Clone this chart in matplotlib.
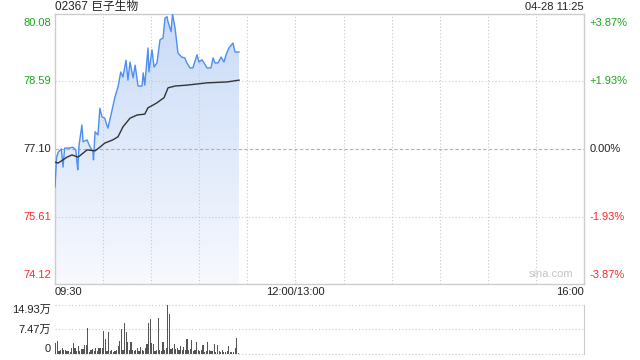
import numpy as np
import matplotlib
matplotlib.use('Agg')
import matplotlib.pyplot as plt

plt.rcParams['font.family'] = ['Liberation Sans', 'Noto Sans CJK SC', 'DejaVu Sans']

# minutes since 09:30, HK session is 330 min (150 morning + 180 afternoon)
price_t = [0, 1, 2, 4, 5, 6, 9, 11, 13, 13.7, 14.2, 15, 16.8, 17.5, 20, 21.8, 23.7, 24,
           25, 26.8, 28, 29.3, 31, 33, 35.6, 37.4, 39.3, 41, 42.4, 44.3, 45.5, 46.8,
           48.7, 50, 51.8, 54.3, 55, 56, 58, 58.6, 60.5, 61.8, 63.6, 65.5, 67.4, 68.6,
           69.9, 70.5, 72.4, 73.3, 74.9, 76.7, 79, 81, 82.3, 84.2, 86, 88.6, 89.8,
           91.7, 93, 94.8, 97.3, 98.6, 99.8, 101.7, 103.6, 105.4, 106.7, 108.5, 111,
           112.3, 114.8]
price = [76.26, 76.92, 77.03, 77.10, 76.70, 77.12, 77.12, 77.14, 77.08, 76.81, 76.64,
         77.19, 77.63, 77.26, 77.30, 77.15, 77.04, 76.86, 77.48, 77.41, 78.00, 77.81,
         77.78, 77.56, 77.96, 78.25, 78.47, 78.80, 78.69, 79.06, 78.62, 79.02, 78.67,
         78.95, 78.49, 78.49, 78.78, 78.51, 79.33, 78.80, 79.29, 78.91, 79.00, 79.51,
         79.55, 79.99, 80.02, 79.91, 79.69, 80.08, 79.77, 79.22, 79.13, 79.11, 79.00,
         78.89, 78.89, 79.18, 79.02, 79.07, 79.00, 78.89, 78.89, 79.11, 79.00, 79.00,
         79.13, 79.02, 79.18, 79.33, 79.44, 79.24, 79.24]

avg_t = [0, 2, 7.5, 10.6, 14.4, 20, 25, 28, 31, 36, 39.3, 42.4, 46.8, 51.2, 56, 58,
         61.2, 63.6, 66.7, 68, 70.5, 74.9, 82.3, 94.8, 107.3, 114.8]
avg = [76.81, 76.79, 76.92, 76.97, 76.92, 77.08, 77.06, 77.14, 77.23, 77.30, 77.37,
       77.59, 77.78, 77.85, 77.87, 78.01, 78.07, 78.12, 78.20, 78.23, 78.45, 78.49,
       78.51, 78.56, 78.58, 78.62]

# volume per minute, unit 万
vol = [3.2, 4.1, 1.0, 1.3, 1.8, 1.3, 1.1, 1.0, 0.8, 0.5, 1.8, 3.2, 1.8, 0.8, 2.5, 0.8,
       1.5, 1.5, 2.8, 2.8, 8.0, 0.5, 1.1, 1.6, 1.0, 1.8, 0.8, 1.8, 1.8, 1.8, 7.1, 4.7,
       0.8, 6.8, 0.8, 1.3, 0.6, 0.8, 1.3, 2.5, 4.1, 7.7, 1.2, 9.5, 6.8, 3.6, 1.3, 3.6,
       1.1, 0.8, 1.3, 1.8, 1.0, 2.0, 1.3, 0.9, 1.8, 3.1, 9.5, 10.8, 3.4, 3.1, 0.8, 1.3,
       11.1, 1.3, 0.9, 3.6, 1.1, 1.8, 14.93, 12.3, 1.5, 1.8, 3.1, 1.5, 1.8, 1.1, 2.3,
       1.3, 2.0, 1.1, 4.7, 1.3, 1.5, 4.2, 0.8, 1.1, 3.7, 1.1, 0.8, 1.1, 2.6, 0.7, 0.8,
       3.7, 1.3, 0.8, 0.8, 3.1, 0.5, 2.7, 0.8, 0.6, 1.1, 0.6, 0.5, 0.8, 2.3, 0.6, 0.5,
       0.6, 1.8, 4.9, 0.3, 0.1]

prev_close = 77.10
price_ticks = [74.12, 75.61, 77.10, 78.59, 80.08]
pct_labels = ['-3.87%', '-1.93%', '0.00%', '+1.93%', '+3.87%']
tick_colors = ['#ff2a2a', '#ff2a2a', '#222222', '#1aa51a', '#1aa51a']
vol_ticks = [0, 7.47, 14.93]
vol_labels = ['0', '7.47万', '14.93万']

GRID = '#c8c8c8'
SPINE = '#cccccc'

fig = plt.figure(figsize=(6.4, 3.6), dpi=100)
ax = fig.add_axes([55 / 640, 1 - 284 / 360, 529 / 640, 270 / 360])
vax = fig.add_axes([55 / 640, 1 - 354 / 360, 529 / 640, 49 / 360])

ax.set_xlim(0, 330)
ax.set_ylim(price_ticks[0], price_ticks[-1])

for x in range(30, 330, 30):
    ax.axvline(x, color=GRID, lw=0.8, ls=(0, (1, 2)), zorder=2)
for y in price_ticks[1:-1]:
    if y == prev_close:
        ax.axhline(y, color='#b0b0b0', lw=0.8, ls=(0, (3, 2)), zorder=2)
    else:
        ax.axhline(y, color=GRID, lw=0.8, ls=(0, (1, 2)), zorder=2)

# gradient fill under the price line
fill = ax.fill_between(price_t, price, price_ticks[0], color='none', lw=0)
grad = np.linspace(0, 1, 256).reshape(-1, 1)
cmap = matplotlib.colors.LinearSegmentedColormap.from_list(
    'f', ['#f7f9fe', '#c9dbf7'])
img = ax.imshow(grad, cmap=cmap, aspect='auto', origin='lower',
                extent=[0, 330, price_ticks[0], price_ticks[-1]], zorder=1)
img.set_clip_path(fill.get_paths()[0], transform=ax.transData)

ax.plot(price_t, price, color='#4d8ef0', lw=1.0, zorder=3)
ax.plot(avg_t, avg, color='#333333', lw=1.0, zorder=3)

ax.set_xticks([])
ax.set_yticks([])
for s in ax.spines.values():
    s.set_color(SPINE)
    s.set_linewidth(1.0)

# left price labels / right percent labels
vas = ['bottom', 'center', 'center', 'center', 'top']
for y, lab, c, va in zip(price_ticks, pct_labels, tick_colors, vas):
    off = {'bottom': 3, 'center': 0, 'top': -3}[va]
    ax.annotate(f'{y:.2f}', (0, y), xytext=(-3, off), textcoords='offset points',
                ha='right', va=va, fontsize=8, color=c)
    ax.annotate(lab, (330, y), xytext=(4, off), textcoords='offset points',
                ha='left', va=va, fontsize=8, color=c)

ax.text(0, -0.012, '09:30', transform=ax.transAxes, ha='left', va='top', fontsize=8, color='#222222')
ax.text(150 / 330, -0.012, '12:00/13:00', transform=ax.transAxes, ha='center', va='top',
        fontsize=8, color='#222222')
ax.text(1, -0.012, '16:00', transform=ax.transAxes, ha='right', va='top', fontsize=8, color='#222222')
ax.text(0.937, 0.02, 'sina.com', transform=ax.transAxes, ha='center', va='bottom',
        fontsize=8, color='#c4c4c4')

fig.text(55 / 640, 1 - 7 / 360, '02367 巨子生物', ha='left', va='center', fontsize=8.5,
         color='#222222')
fig.text(584 / 640, 1 - 7 / 360, '04-28 11:25', ha='right', va='center', fontsize=8,
         color='#222222')

# volume panel
vax.set_xlim(-0.5, 330)
vax.set_ylim(0, vol_ticks[-1])
vax.bar(np.arange(len(vol)), vol, width=0.7, color='#555555', zorder=2)
for y in vol_ticks:
    vax.axhline(y, color=GRID, lw=0.8, ls=(0, (1, 2)), zorder=0, clip_on=False)
vax.set_xticks([])
vax.set_yticks([])
for k in ['top', 'bottom', 'left']:
    vax.spines[k].set_visible(False)
vax.spines['right'].set_color(SPINE)
for y, lab, va in zip(vol_ticks, vol_labels, ['bottom', 'center', 'top']):
    vax.annotate(lab, (-0.5, y), xytext=(-3, 0), textcoords='offset points',
                 ha='right', va=va, fontsize=8, color='#222222')

fig.savefig('out.png', dpi=100)
